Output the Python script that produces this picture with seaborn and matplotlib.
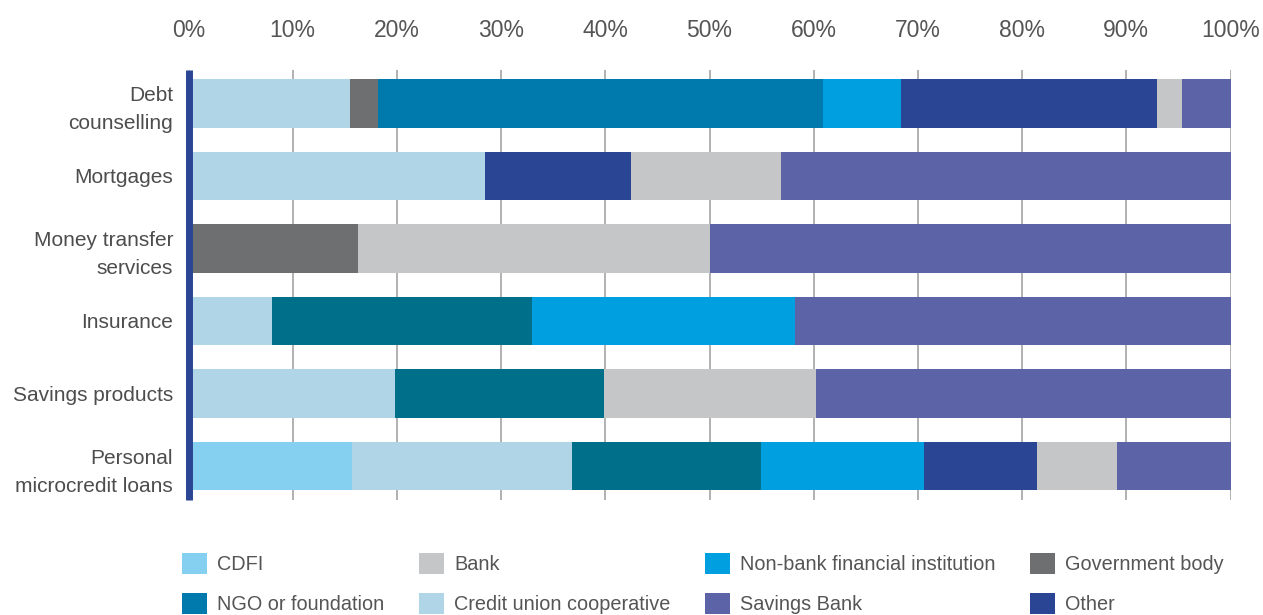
import matplotlib
matplotlib.use("Agg")
import matplotlib.pyplot as plt
from matplotlib.patches import Patch
import seaborn as sns
import pandas as pd
import numpy as np

# Product categories (top to bottom)
categories = [
    "Debt\ncounselling",
    "Mortgages",
    "Money transfer\nservices",
    "Insurance",
    "Savings products",
    "Personal\nmicrocredit loans",
]

# Share of providers by type, % (stacking order left to right)
cdfi          = [0.0, 0.0, 0.0, 0.0, 0.0, 15.7]
credit_union  = [15.5, 28.5, 0.0, 8.0, 19.8, 21.1]
government    = [2.7, 0.0, 16.3, 0.0, 0.0, 0.0]
ngo           = [42.7, 0.0, 0.0, 25.0, 20.1, 18.1]
non_bank      = [7.5, 0.0, 0.0, 25.2, 0.0, 15.7]
other         = [24.5, 14.0, 0.0, 0.0, 0.0, 10.8]
bank          = [2.4, 14.4, 33.7, 0.0, 20.3, 7.7]
savings_bank  = [4.7, 43.1, 50.0, 41.8, 39.8, 10.9]

series_names = ["CDFI", "Credit union cooperative", "Government body", "NGO or foundation",
                "Non-bank financial institution", "Other", "Bank", "Savings Bank"]
series_values = [cdfi, credit_union, government, ngo, non_bank, other, bank, savings_bank]
series_colors = ["#85d0f0", "#b0d5e7", "#6e6f71", "#0079ad",
                 "#009fdf", "#2a4593", "#c5c6c8", "#5c63a7"]
# NGO segments outside debt counselling are drawn in a deeper teal
ngo_row_colors = ["#0079ad", "#00708a", "#00708a", "#00708a", "#00708a", "#00708a"]

df = pd.DataFrame({"category": categories})
for name, vals in zip(series_names, series_values):
    df[name] = vals

sns.set_style("white")
plt.rcParams["font.family"] = ["Liberation Sans", "DejaVu Sans"]

fig = plt.figure(figsize=(12.63, 6.15), dpi=100)
ax = fig.add_axes([188.5 / 1263, 1 - 500 / 615, (1230.5 - 188.5) / 1263, (500 - 70) / 615])

# Stacked bars: draw cumulative totals from widest to narrowest so each
# segment sits on top of the one extending further right.
cum = df[series_names].cumsum(axis=1)
for i in range(len(series_names) - 1, -1, -1):
    name = series_names[i]
    if name == "NGO or foundation":
        pal = dict(zip(categories, ngo_row_colors))
    else:
        pal = {c: series_colors[i] for c in categories}
    sns.barplot(x=cum[name], y=df["category"], hue=df["category"], palette=pal,
                order=categories, hue_order=categories, orient="h", dodge=False,
                legend=False, width=0.67, saturation=1, linewidth=0, ax=ax)

ax.set_xlim(0, 100)
ax.set_ylim(5.47, -0.46)
ax.set_xlabel("")
ax.set_ylabel("")

# Percentage axis on top
ax.xaxis.tick_top()
ax.set_xticks(np.arange(0, 101, 10))
ax.set_xticklabels([f"{v}%" for v in range(0, 101, 10)])
ax.tick_params(axis="x", length=0, pad=20, labelsize=16.5, labelcolor="#555555")

# Category labels and separators between rows
ax.set_yticks(range(len(categories)))
ax.set_yticklabels(categories, linespacing=1.6)
ax.tick_params(axis="y", which="major", length=0, pad=11, labelsize=15, labelcolor="#4d4d4d")
ax.set_yticks(np.arange(0.5, len(categories) - 1, 1), minor=True)
ax.tick_params(axis="y", which="minor", length=127, width=0.9, color="#8c8c8c", direction="out")

ax.grid(axis="x", color="#9d9d9d", linewidth=1.1)
ax.grid(axis="y", visible=False)
ax.set_axisbelow(True)

for side in ["top", "right", "bottom"]:
    ax.spines[side].set_visible(False)
ax.spines["left"].set_color("#2a4593")
ax.spines["left"].set_linewidth(5)
ax.spines["left"].set_capstyle("butt")

# Legend, filled column by column in a 2 x 4 grid
legend_order = ["CDFI", "NGO or foundation", "Bank", "Credit union cooperative",
                "Non-bank financial institution", "Savings Bank", "Government body", "Other"]
color_of = dict(zip(series_names, series_colors))
handles = [Patch(facecolor=color_of[n], edgecolor="none", label=n) for n in legend_order]
fig.legend(handles=handles, loc="upper left", bbox_to_anchor=(182 / 1263, 1 - 553 / 615),
           ncol=4, frameon=False, fontsize=14.3, labelcolor="#555555",
           handlelength=1.26, handleheight=1.26, handletextpad=0.5,
           labelspacing=0.95, columnspacing=1.75, borderpad=0, borderaxespad=0)

fig.savefig("out.png", dpi=100)
